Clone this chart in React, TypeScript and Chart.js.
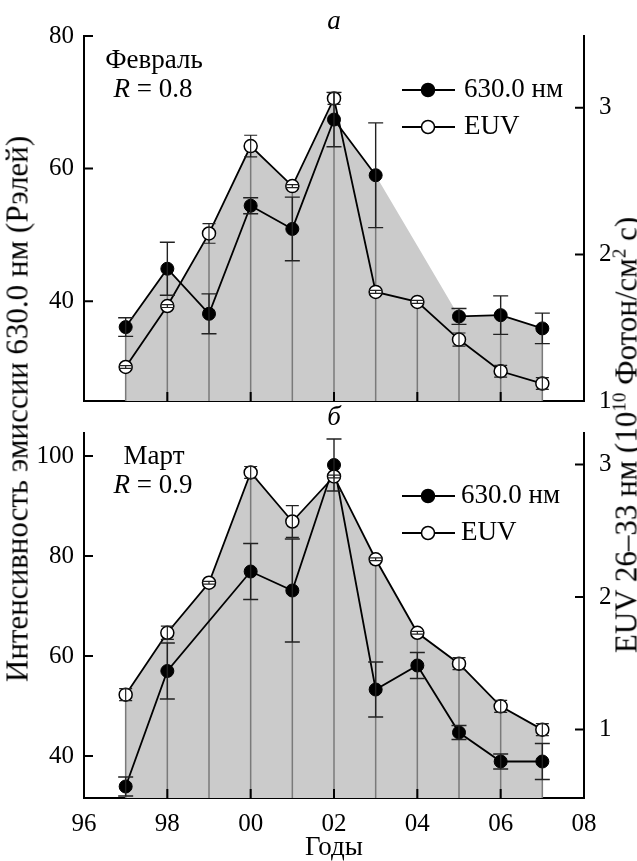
import React, { useEffect, useRef } from 'react';
import { Chart, registerables } from 'chart.js';

Chart.register(...registerables);

// ---------- data ----------
const years = [1997, 1998, 1999, 2000, 2001, 2002, 2003, 2004, 2005, 2006, 2007];
const xTickValues = [96, 98, 100, 102, 104, 106, 108];
const xTickLabels = ['96', '98', '00', '02', '04', '06', '08'];
const seriesNames = ['630.0 нм', 'EUV'];

// February (panel а)
const febIntensity = [36.1, 44.9, 38.1, 54.4, 50.9, 67.4, 59.0, null, 37.7, 37.9, 35.9];
const febIntensityErr = [1.4, 4.0, 3.0, 1.2, 4.8, 4.1, 7.9, null, 1.2, 2.9, 2.3];
const febEuv = [1.232, 1.648, 2.143, 2.739, 2.466, 3.064, 1.744, 1.676, 1.419, 1.203, 1.119];
const febEuvErr = [0.01, 0.01, 0.067, 0.074, 0.01, 0.04, 0.01, 0.01, 0.045, 0.04, 0.04];
const febLeftTicks = [40, 60, 80];
const febRightTicks = [1, 2, 3];
const febR = '0.8';

// March (panel б)
const marIntensity = [33.9, 57.0, null, 76.9, 73.1, 98.2, 53.3, 58.1, 44.7, 38.9, 38.9];
const marIntensityErr = [1.9, 5.6, null, 5.6, 10.3, 5.2, 5.5, 2.6, 1.4, 1.5, 3.6];
const marEuv = [1.263, 1.73, 2.108, 2.94, 2.57, 2.91, 2.285, 1.73, 1.497, 1.175, 0.999];
const marEuvErr = [0.045, 0.05, 0.01, 0.045, 0.12, 0.01, 0.01, 0.01, 0.045, 0.045, 0.045];
const marLeftTicks = [40, 60, 80, 100];
const marRightTicks = [1, 2, 3];
const marR = '0.9';

const FONT = "'Liberation Serif', 'Times New Roman', serif";
const TICK_FS = 25;
const TEXT_FS = 27;
const TITLE_FS = 31;

type Panel = {
  canvasTop: number;
  height: number;
  padTop: number;
  xHeight: number;
  showX: boolean;
  yL: { min: number; max: number; ticks: number[] };
  yR: { min: number; max: number; ticks: number[] };
  intensity: (number | null)[];
  intensityErr: (number | null)[];
  euv: number[];
  euvErr: number[];
  spanGaps: boolean;
  panelLabel: string;
  panelLabelY: number;
  month: string;
  monthY: number;
  rValue: string;
  rY: number;
  legendY: [number, number];
  legendTextX: number;
  xTitle?: string;
  xTitleY?: number;
};

const panels: Panel[] = [
  {
    canvasTop: 0, height: 420, padTop: 36, xHeight: 19, showX: false,
    yL: { min: 24.95, max: 80, ticks: febLeftTicks },
    yR: { min: 1, max: 3.49, ticks: febRightTicks },
    intensity: febIntensity, intensityErr: febIntensityErr, euv: febEuv, euvErr: febEuvErr,
    spanGaps: false, panelLabel: 'а', panelLabelY: 22,
    month: 'Февраль', monthY: 61, rValue: febR, rY: 90,
    legendY: [90, 127], legendTextX: 464,
  },
  {
    canvasTop: 403, height: 458, padTop: 30, xHeight: 63, showX: true,
    yL: { min: 31.6, max: 104.6, ticks: marLeftTicks },
    yR: { min: 0.483, max: 3.238, ticks: marRightTicks },
    intensity: marIntensity, intensityErr: marIntensityErr, euv: marEuv, euvErr: marEuvErr,
    spanGaps: true, panelLabel: 'б', panelLabelY: 15,
    month: 'Март', monthY: 54, rValue: marR, rY: 83,
    legendY: [93, 130], legendTextX: 461,
    xTitle: 'Годы', xTitleY: 445,
  },
];

function drawErr(ctx: CanvasRenderingContext2D, x: number, ys: any, v: number, e: number, half: number) {
  const y0 = ys.getPixelForValue(v - e);
  const y1 = ys.getPixelForValue(v + e);
  ctx.beginPath();
  ctx.moveTo(x, y0); ctx.lineTo(x, y1);
  ctx.moveTo(x - half, y0); ctx.lineTo(x + half, y0);
  ctx.moveTo(x - half, y1); ctx.lineTo(x + half, y1);
  ctx.stroke();
}

function makePlugin(p: Panel) {
  return {
    id: 'panelDecor',
    beforeDatasetsDraw(chart: any) {
      const { ctx, chartArea } = chart;
      const xs = chart.scales.x, yl = chart.scales.yL, yr = chart.scales.yR;
      const n = years.length;
      const px = years.map((y) => xs.getPixelForValue(y - 1900));
      const pa = p.intensity.map((v) => (v == null ? null : yl.getPixelForValue(v)));
      const pb = p.euv.map((v) => yr.getPixelForValue(v));
      const fa = pa.map((v, i) => {
        if (v != null) return v;
        let l = i - 1; while (l > 0 && pa[l] == null) l--;
        let r = i + 1; while (r < n - 1 && pa[r] == null) r++;
        const t = (px[i] - px[l]) / (px[r] - px[l]);
        return (pa[l] as number) + ((pa[r] as number) - (pa[l] as number)) * t;
      });
      const pts: [number, number][] = [];
      for (let i = 0; i < n; i++) {
        pts.push([px[i], Math.min(fa[i], pb[i])]);
        if (i < n - 1) {
          const d0 = fa[i] - pb[i], d1 = fa[i + 1] - pb[i + 1];
          if (d0 * d1 < 0) {
            const t = d0 / (d0 - d1);
            pts.push([px[i] + t * (px[i + 1] - px[i]), fa[i] + t * (fa[i + 1] - fa[i])]);
          }
        }
      }
      ctx.save();
      ctx.beginPath();
      ctx.moveTo(px[0], chartArea.bottom);
      pts.forEach(([x, y]) => ctx.lineTo(x, y));
      ctx.lineTo(px[n - 1], chartArea.bottom);
      ctx.closePath();
      ctx.fillStyle = '#cbcbcb';
      ctx.fill();
      ctx.strokeStyle = '#7a7a7a';
      ctx.lineWidth = 1.5;
      for (let i = 0; i < n; i++) {
        const top = Math.min(pa[i] == null ? Infinity : (pa[i] as number), pb[i]);
        ctx.beginPath();
        ctx.moveTo(px[i], chartArea.bottom);
        ctx.lineTo(px[i], top);
        ctx.stroke();
      }
      ctx.restore();
    },
    afterDatasetsDraw(chart: any) {
      const { ctx, chartArea } = chart;
      const xs = chart.scales.x, yl = chart.scales.yL, yr = chart.scales.yR;
      ctx.save();
      ctx.strokeStyle = '#222';
      ctx.lineWidth = 1.4;
      years.forEach((y, i) => {
        const v = p.intensity[i], e = p.intensityErr[i];
        if (v == null || e == null) return;
        drawErr(ctx, xs.getPixelForValue(y - 1900), yl, v, e, 7.5);
      });
      ctx.lineWidth = 1.2;
      years.forEach((y, i) => {
        drawErr(ctx, xs.getPixelForValue(y - 1900), yr, p.euv[i], p.euvErr[i], 6.5);
      });
      // inward ticks
      ctx.strokeStyle = '#000';
      ctx.lineWidth = 2;
      const L = 9;
      ctx.beginPath();
      yl.ticks.forEach((t: any) => {
        const y = yl.getPixelForValue(t.value);
        ctx.moveTo(chartArea.left, y); ctx.lineTo(chartArea.left + L, y);
      });
      yr.ticks.forEach((t: any) => {
        const y = yr.getPixelForValue(t.value);
        ctx.moveTo(chartArea.right - L, y); ctx.lineTo(chartArea.right, y);
      });
      xs.ticks.forEach((t: any) => {
        const x = xs.getPixelForValue(t.value);
        ctx.moveTo(x, chartArea.bottom); ctx.lineTo(x, chartArea.bottom - L);
      });
      ctx.stroke();
      ctx.restore();
    },
    afterDraw(chart: any) {
      const { ctx, chartArea } = chart;
      const cx = (chartArea.left + chartArea.right) / 2;
      const reg = `${TEXT_FS}px ${FONT}`;
      const ital = `italic ${TEXT_FS}px ${FONT}`;
      ctx.save();
      ctx.fillStyle = '#000';
      ctx.textBaseline = 'middle';
      // panel label
      ctx.textAlign = 'center';
      ctx.font = ital;
      ctx.fillText(p.panelLabel, cx, p.panelLabelY);
      // month + R
      ctx.font = reg;
      ctx.fillText(p.month, 154, p.monthY);
      const rest = ' = ' + p.rValue;
      ctx.font = ital;
      const wR = ctx.measureText('R').width;
      ctx.font = reg;
      const wRest = ctx.measureText(rest).width;
      const sx = 153 - (wR + wRest) / 2;
      ctx.textAlign = 'left';
      ctx.font = ital;
      ctx.fillText('R', sx, p.rY);
      ctx.font = reg;
      ctx.fillText(rest, sx + wR, p.rY);
      // legend
      seriesNames.forEach((name, i) => {
        const y = p.legendY[i];
        ctx.strokeStyle = '#000';
        ctx.lineWidth = 1.8;
        ctx.beginPath();
        ctx.moveTo(402, y); ctx.lineTo(455, y);
        ctx.stroke();
        ctx.beginPath();
        ctx.arc(428, y, 6.5, 0, Math.PI * 2);
        ctx.fillStyle = i === 0 ? '#000' : '#fff';
        ctx.fill();
        ctx.lineWidth = 1.5;
        ctx.stroke();
        ctx.fillStyle = '#000';
        ctx.font = reg;
        ctx.textAlign = 'left';
        ctx.fillText(name, p.legendTextX, y);
      });
      if (p.xTitle && p.xTitleY != null) {
        ctx.textAlign = 'center';
        ctx.font = reg;
        ctx.fillText(p.xTitle, cx, p.xTitleY);
      }
      ctx.restore();
    },
  };
}

function buildConfig(p: Panel): any {
  const tickFont = { family: FONT, size: TICK_FS };
  return {
    type: 'line',
    data: {
      datasets: [
        {
          label: seriesNames[0],
          data: years.map((y, i) => ({ x: y - 1900, y: p.intensity[i] })),
          yAxisID: 'yL',
          borderColor: '#000',
          borderWidth: 1.8,
          pointRadius: 6.5,
          pointBackgroundColor: '#000',
          pointBorderColor: '#000',
          pointBorderWidth: 1,
          spanGaps: p.spanGaps,
          clip: false,
          order: 1,
        },
        {
          label: seriesNames[1],
          data: years.map((y, i) => ({ x: y - 1900, y: p.euv[i] })),
          yAxisID: 'yR',
          borderColor: '#000',
          borderWidth: 1.8,
          pointRadius: 6.5,
          pointBackgroundColor: '#fff',
          pointBorderColor: '#000',
          pointBorderWidth: 1.5,
          spanGaps: true,
          clip: false,
          order: 0,
        },
      ],
    },
    options: {
      responsive: false,
      animation: false,
      devicePixelRatio: 1,
      layout: { padding: { top: p.padTop, left: 0, right: 0, bottom: 0 } },
      plugins: { legend: { display: false }, tooltip: { enabled: false }, title: { display: false } },
      elements: { line: { tension: 0 } },
      scales: {
        x: {
          type: 'linear',
          position: 'bottom',
          min: xTickValues[0],
          max: xTickValues[xTickValues.length - 1],
          afterBuildTicks: (s: any) => { s.ticks = xTickValues.map((v) => ({ value: v })); },
          afterFit: (s: any) => { s.height = p.xHeight; s.paddingLeft = 0; s.paddingRight = 0; },
          grid: { display: true, drawOnChartArea: false, drawTicks: false },
          border: { display: true, color: '#000', width: 2 },
          ticks: {
            display: p.showX, padding: 11, color: '#000', font: tickFont,
            maxRotation: 0, autoSkip: false,
            callback: (_v: any, i: number) => xTickLabels[i],
          },
        },
        yL: {
          type: 'linear',
          position: 'left',
          min: p.yL.min,
          max: p.yL.max,
          afterBuildTicks: (s: any) => { s.ticks = p.yL.ticks.map((v) => ({ value: v })); },
          afterFit: (s: any) => { s.width = 84; s.paddingTop = 0; s.paddingBottom = 0; },
          grid: { display: true, drawOnChartArea: false, drawTicks: false },
          border: { display: true, color: '#000', width: 2 },
          ticks: { padding: 10, color: '#000', font: tickFont, callback: (_v: any, i: number) => String(p.yL.ticks[i]) },
        },
        yR: {
          type: 'linear',
          position: 'right',
          min: p.yR.min,
          max: p.yR.max,
          afterBuildTicks: (s: any) => { s.ticks = p.yR.ticks.map((v) => ({ value: v })); },
          afterFit: (s: any) => { s.width = 53; s.paddingTop = 0; s.paddingBottom = 0; },
          grid: { display: true, drawOnChartArea: false, drawTicks: false },
          border: { display: true, color: '#000', width: 2 },
          ticks: { padding: 15, color: '#000', font: tickFont, callback: (_v: any, i: number) => String(p.yR.ticks[i]) },
        },
      },
    },
    plugins: [makePlugin(p)],
  };
}

function PanelChart({ p }: { p: Panel }) {
  const ref = useRef<HTMLCanvasElement | null>(null);
  useEffect(() => {
    if (!ref.current) return;
    const chart = new Chart(ref.current, buildConfig(p));
    return () => chart.destroy();
  }, [p]);
  return (
    <canvas
      ref={ref}
      width={637}
      height={p.height}
      style={{ position: 'absolute', left: 0, top: p.canvasTop, width: 637, height: p.height }}
    />
  );
}

export default function App() {
  const titleStyle: React.CSSProperties = {
    position: 'absolute',
    transform: 'translate(-50%, -50%) rotate(-90deg)',
    whiteSpace: 'nowrap',
    fontFamily: FONT,
    fontSize: TITLE_FS,
    lineHeight: 1,
    color: '#000',
  };
  const sup: React.CSSProperties = { fontSize: 19, verticalAlign: 'super', lineHeight: 0 };
  return (
    <div style={{ position: 'absolute', left: 0, top: 0, width: 637, height: 861, background: '#fff', overflow: 'hidden' }}>
      {panels.map((p, i) => (
        <PanelChart key={i} p={p} />
      ))}
      <div style={{ ...titleStyle, left: 17, top: 409 }}>Интенсивность эмиссии 630.0 нм (Рэлей)</div>
      <div style={{ ...titleStyle, left: 626, top: 435 }}>
        EUV 26–33 нм (10<span style={sup}>10</span> Фотон/см<span style={sup}>2</span> с)
      </div>
    </div>
  );
}
